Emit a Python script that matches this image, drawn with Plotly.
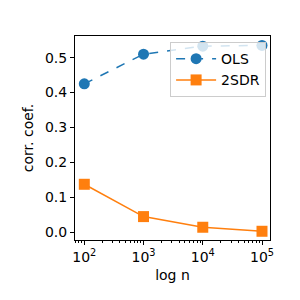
import plotly.graph_objects as go
import numpy as np

n_values = [100, 1000, 10000, 100000]
ols = [0.425, 0.51, 0.533, 0.535]
sdr = [0.1375, 0.045, 0.0145, 0.003]
x_tick_vals = [100, 1000, 10000, 100000]
x_tick_text = ["10<sup>2</sup>", "10<sup>3</sup>", "10<sup>4</sup>", "10<sup>5</sup>"]
y_tick_vals = [0.0, 0.1, 0.2, 0.3, 0.4, 0.5]
y_tick_text = ["0.0", "0.1", "0.2", "0.3", "0.4", "0.5"]

minor_vals = [m * 10 ** e for e in range(1, 6) for m in range(2, 10)]

fig = go.Figure()
fig.add_trace(go.Scatter(x=n_values, y=ols, name="OLS", mode="lines+markers",
                         line=dict(color="#1f77b4", width=1.5, dash="dash"),
                         marker=dict(symbol="circle", size=11, color="#1f77b4")))
fig.add_trace(go.Scatter(x=n_values, y=sdr, name="2SDR", mode="lines+markers",
                         line=dict(color="#ff7f0e", width=1.5),
                         marker=dict(symbol="square", size=11, color="#ff7f0e")))

font = dict(family="DejaVu Sans", size=14, color="black")
fig.update_layout(
    width=300, height=300,
    margin=dict(l=75, r=30, t=36, b=60, autoexpand=False),
    paper_bgcolor="white", plot_bgcolor="white",
    font=font,
    showlegend=True,
    legend=dict(x=0.98, y=0.97, xanchor="right", yanchor="top",
                bgcolor="rgba(255,255,255,0.8)", bordercolor="#cccccc", borderwidth=1,
                font=dict(family="DejaVu Sans", size=14), tracegroupgap=0,
                itemwidth=40),
)
fig.update_xaxes(type="log", range=[1.843, 5.135], automargin=False,
                 tickvals=x_tick_vals, ticktext=x_tick_text,
                 ticks="outside", ticklen=4, tickwidth=1, tickcolor="black",
                 minor=dict(ticks="outside", ticklen=2, tickwidth=0.8, tickcolor="black",
                            tickvals=minor_vals, showgrid=False),
                 showline=True, linecolor="black", linewidth=1, mirror=True,
                 showgrid=False, zeroline=False,
                 title=dict(text="log n", font=font, standoff=6))
fig.update_yaxes(range=[-0.022, 0.562], automargin=False,
                 tickvals=y_tick_vals, ticktext=y_tick_text,
                 ticks="outside", ticklen=4, tickwidth=1, tickcolor="black",
                 showline=True, linecolor="black", linewidth=1, mirror=True,
                 showgrid=False, zeroline=False,
                 title=dict(text="corr. coef.", font=font, standoff=8))

fig.write_html("out.html", config={"displayModeBar": False},
               post_script="document.body.style.margin='0';document.body.style.overflow='hidden';")
